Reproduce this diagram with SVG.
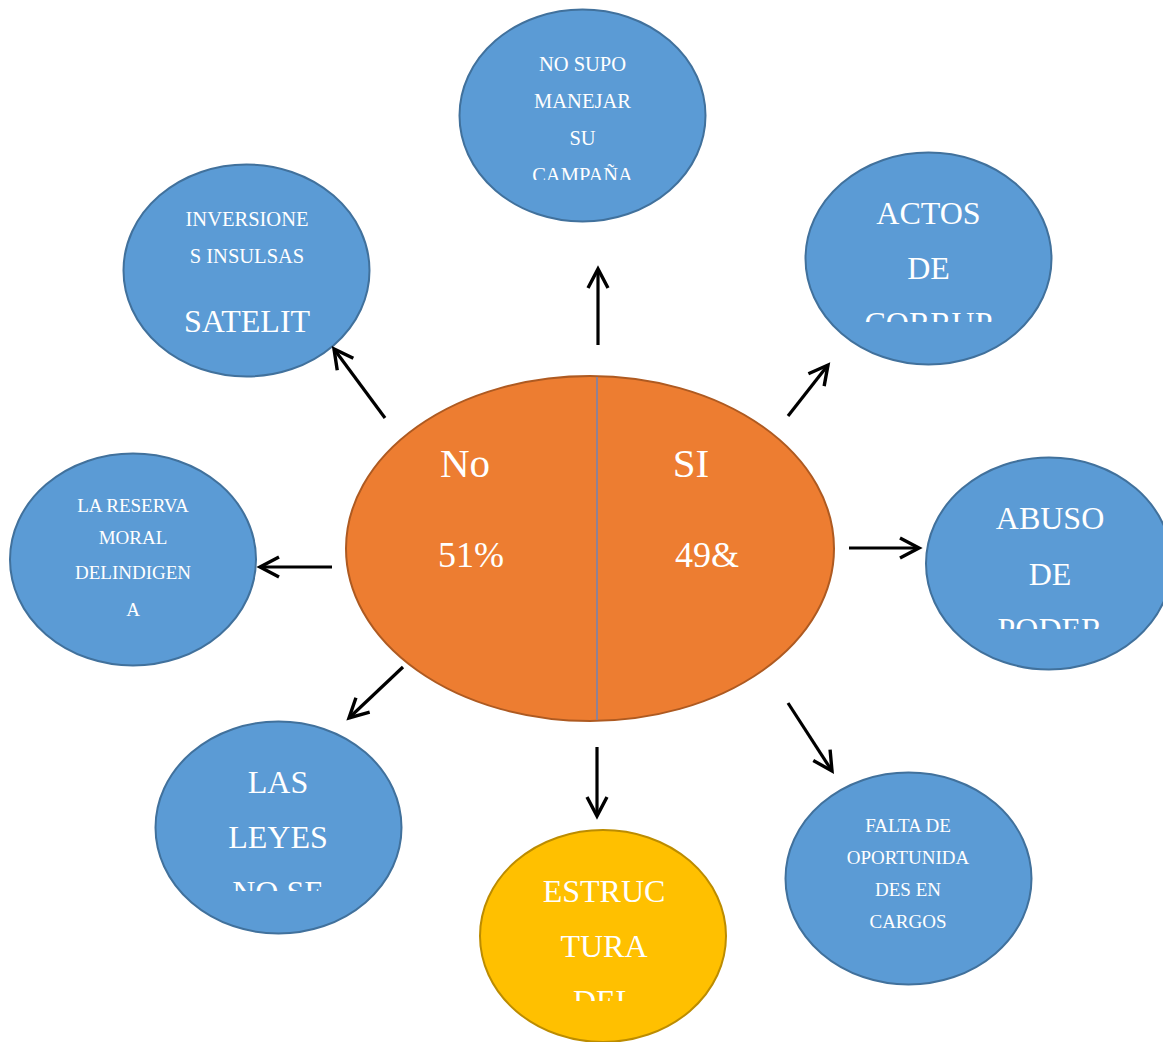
<svg xmlns="http://www.w3.org/2000/svg" width="1163" height="1042" viewBox="0 0 1163 1042">
<style>
.blue{fill:#5B9BD5;stroke:#41719C;stroke-width:2}
.yellow{fill:#FFC000;stroke:#BC8C00;stroke-width:2}
.center{fill:#ED7D31;stroke:#AE5A21;stroke-width:2}
text{font-family:"Liberation Serif","Times New Roman",serif;fill:#FFFFFF;text-anchor:middle}
.s{font-size:19px}
.m{font-size:20.5px}
.l{font-size:32px}
.conn line{stroke:#000;stroke-width:3.2;fill:none;marker-end:url(#arr)}
</style>
<defs>
<marker id="arr" markerUnits="userSpaceOnUse" viewBox="-24 -14 28 28" markerWidth="28" markerHeight="28" refX="0" refY="0" orient="auto">
<path d="M-19,-10 L0,0 L-19,10" fill="none" stroke="#000" stroke-width="3.4"/>
</marker>
<clipPath id="c1" clipPathUnits="userSpaceOnUse"><rect x="400" y="0" width="360" height="180"/></clipPath>
<clipPath id="c2" clipPathUnits="userSpaceOnUse"><rect x="780" y="100" width="300" height="222"/></clipPath>
<clipPath id="c3" clipPathUnits="userSpaceOnUse"><rect x="900" y="400" width="263" height="229"/></clipPath>
<clipPath id="c4" clipPathUnits="userSpaceOnUse"><rect x="130" y="700" width="300" height="191"/></clipPath>
<clipPath id="c5" clipPathUnits="userSpaceOnUse"><rect x="460" y="800" width="300" height="201"/></clipPath>
</defs>
<rect width="1163" height="1042" fill="#FFFFFF"/>

<g id="center-node">
<ellipse class="center" cx="590" cy="548.5" rx="244" ry="172.5"/>
<line x1="597" y1="377" x2="597" y2="720" stroke="#7283B5" stroke-width="1.5"/>
<text x="465" y="477" style="font-size:41px">No</text>
<text x="471" y="567" style="font-size:36px">51%</text>
<text x="691" y="477" style="font-size:41px">SI</text>
<text x="707" y="567" style="font-size:36px">49&amp;</text>
</g>

<g id="node-nosupo">
<ellipse class="blue" cx="582.5" cy="115.5" rx="123" ry="106"/>
<text class="m" x="582.5" y="71">NO SUPO</text>
<text class="m" x="582.5" y="108">MANEJAR</text>
<text class="m" x="582.5" y="145">SU</text>
<text class="m" x="582.5" y="182" clip-path="url(#c1)">CAMPAÑA</text>
</g>

<g id="node-inversiones">
<ellipse class="blue" cx="246.5" cy="270.5" rx="123" ry="106"/>
<text class="m" x="247" y="226">INVERSIONE</text>
<text class="m" x="247" y="263">S INSULSAS</text>
<text class="l" x="247" y="332">SATELIT</text>
</g>

<g id="node-actos">
<ellipse class="blue" cx="928.5" cy="258.5" rx="123" ry="106"/>
<text class="l" x="928.5" y="224">ACTOS</text>
<text class="l" x="928.5" y="279">DE</text>
<text class="l" x="928.5" y="334" clip-path="url(#c2)">CORRUP</text>
</g>

<g id="node-reserva">
<ellipse class="blue" cx="133" cy="559.5" rx="123" ry="106"/>
<text class="s" x="133" y="512">LA RESERVA</text>
<text class="s" x="133" y="544">MORAL</text>
<text class="s" x="133" y="579">DELINDIGEN</text>
<text class="s" x="133" y="616">A</text>
</g>

<g id="node-abuso">
<ellipse class="blue" cx="1049" cy="563.5" rx="123" ry="106"/>
<text class="l" x="1050" y="529">ABUSO</text>
<text class="l" x="1050" y="585">DE</text>
<text class="l" x="1050" y="640" clip-path="url(#c3)">PODER</text>
</g>

<g id="node-leyes">
<ellipse class="blue" cx="278.5" cy="827.5" rx="123" ry="106"/>
<text class="l" x="278" y="793">LAS</text>
<text class="l" x="278" y="848">LEYES</text>
<text class="l" x="278" y="903" clip-path="url(#c4)">NO SE</text>
</g>

<g id="node-estructura">
<ellipse class="yellow" cx="603" cy="936" rx="123" ry="106"/>
<text class="l" x="604" y="902">ESTRUC</text>
<text class="l" x="604" y="957">TURA</text>
<text class="l" x="604" y="1012" clip-path="url(#c5)">DEL</text>
</g>

<g id="node-falta">
<ellipse class="blue" cx="908.5" cy="878.5" rx="123" ry="106"/>
<text class="s" x="908" y="832">FALTA DE</text>
<text class="s" x="908" y="864">OPORTUNIDA</text>
<text class="s" x="908" y="896">DES EN</text>
<text class="s" x="908" y="928">CARGOS</text>
</g>

<g id="connectors" class="conn">
<line x1="598" y1="345" x2="598" y2="269"/>
<line x1="385" y1="418" x2="334" y2="349"/>
<line x1="788" y1="416" x2="828" y2="365"/>
<line x1="849" y1="548" x2="919" y2="548"/>
<line x1="332" y1="567" x2="260" y2="567"/>
<line x1="403" y1="667" x2="349" y2="718"/>
<line x1="597" y1="747" x2="597" y2="816"/>
<line x1="788" y1="703" x2="832" y2="771"/>
</g>
</svg>
